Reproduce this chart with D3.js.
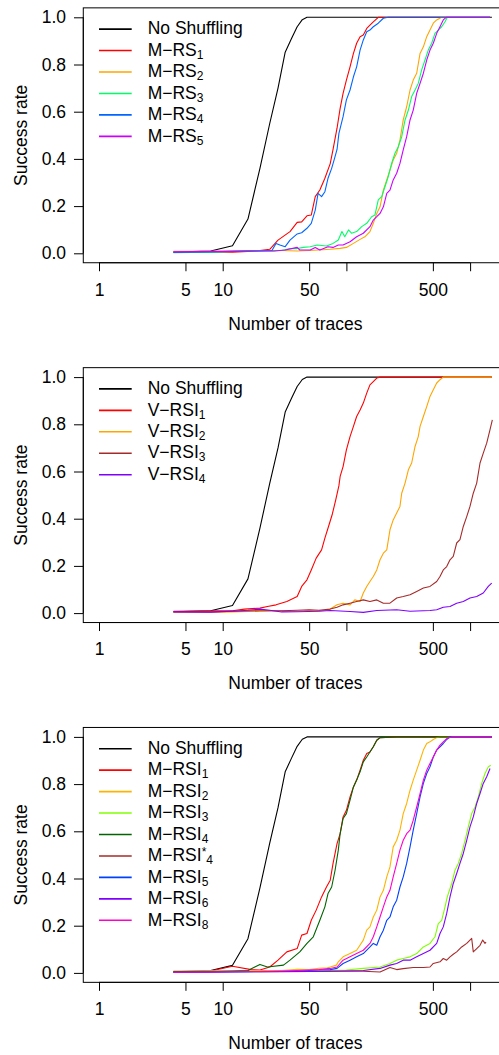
<!DOCTYPE html>
<html>
<head>
<meta charset="utf-8">
<script src="https://cdn.jsdelivr.net/npm/d3@7"></script>
<style>
  html, body { margin: 0; padding: 0; background: #fff; }
  svg { display: block; }
  text { font-family: "Liberation Sans", Arial, Helvetica, sans-serif; fill: #000; }
</style>
</head>
<body>
<svg id="chart" width="499" height="1055"></svg>
<script>
// ---- Axis ticks ----
const xTicks = [1, 5, 10, 50, 100, 500, 1000];
const xTickLabels = ["1", "5", "10", "50", "", "500", ""];
const yTicks = [0, 0.2, 0.4, 0.6, 0.8, 1.0];
const xTitle = "Number of traces";
const yTitle = "Success rate";

// ---- Series: [number of traces, success rate] ----
const noShuffling = [[4,0.005],[8,0.01],[12,0.032],[16,0.145],[20,0.36],[24,0.55],[28,0.70],[32,0.852],[36,0.91],[40,0.96],[44,0.99],[48,1.0],[1500,1.0]];

// Panel 1: M-RS variants
const mrs1 = [[4,0.005],[8,0.006],[12,0.005],[16,0.008],[20,0.012],[24,0.017],[28,0.056],[35,0.092],[40,0.131],[43.5,0.133],[48,0.159],[52,0.162],[56,0.24],[61,0.268],[67,0.318],[74,0.38],[78,0.44],[84,0.53],[89,0.614],[94,0.678],[100,0.734],[107,0.79],[114,0.847],[121,0.89],[129,0.918],[137,0.925],[146,0.953],[155,0.967],[165,0.981],[181,1.0],[1450,1.0]];
const mrs2 = [[4,0.008],[8,0.008],[12,0.01],[16,0.012],[20,0.012],[30,0.012],[40,0.01],[50,0.012],[60,0.014],[74,0.017],[89,0.021],[100,0.025],[114,0.042],[129,0.059],[141,0.07],[155,0.092],[165,0.127],[176,0.169],[187,0.197],[199,0.268],[212,0.311],[225,0.353],[239,0.395],[255,0.424],[271,0.48],[288,0.565],[307,0.621],[327,0.692],[347,0.734],[370,0.763],[394,0.847],[419,0.875],[446,0.918],[474,0.946],[504,0.975],[537,0.989],[589,1.0],[1450,1.0]];
const mrs3 = [[4,0.003],[8,0.005],[12,0.008],[16,0.01],[20,0.012],[25,0.01],[30,0.012],[35,0.02],[40,0.02],[45,0.025],[51,0.028],[58,0.035],[69,0.031],[78,0.042],[86,0.056],[92,0.092],[97,0.07],[104,0.099],[110,0.085],[121,0.092],[133,0.113],[146,0.127],[160,0.155],[170,0.162],[181,0.226],[193,0.24],[205,0.282],[218,0.325],[232,0.381],[247,0.424],[263,0.452],[280,0.494],[298,0.565],[317,0.607],[337,0.664],[359,0.692],[381,0.72],[406,0.777],[432,0.819],[459,0.861],[489,0.89],[520,0.932],[553,0.946],[589,0.96],[627,0.981],[654,1.0],[1450,1.0]];
const mrs4 = [[4,0.004],[8,0.006],[12,0.008],[16,0.01],[20,0.01],[25,0.012],[27,0.042],[29,0.035],[32,0.028],[35,0.056],[40,0.082],[43.5,0.087],[48,0.106],[52,0.127],[56,0.183],[59,0.254],[63,0.24],[67,0.261],[71,0.318],[76,0.36],[80,0.40],[84,0.44],[87,0.508],[94,0.579],[100,0.65],[107,0.692],[114,0.748],[121,0.79],[129,0.861],[137,0.904],[146,0.939],[155,0.946],[165,0.96],[181,0.975],[199,0.996],[218,1.0],[1450,1.0]];
const mrs5 = [[4,0.006],[8,0.008],[12,0.008],[16,0.01],[20,0.01],[26,0.01],[32,0.014],[40,0.025],[42,0.014],[51,0.014],[56,0.025],[61,0.014],[71,0.028],[78,0.025],[86,0.035],[94,0.035],[107,0.049],[121,0.07],[137,0.085],[155,0.113],[165,0.141],[176,0.155],[187,0.169],[199,0.197],[212,0.254],[225,0.268],[239,0.311],[255,0.339],[271,0.381],[288,0.438],[307,0.494],[327,0.565],[347,0.607],[370,0.678],[394,0.72],[419,0.763],[446,0.819],[474,0.861],[504,0.89],[537,0.932],[571,0.96],[607,0.989],[640,1.0],[1450,1.0]];

// Panel 2: V-RSI variants
const vrsi1 = [[4,0.008],[8,0.01],[12,0.01],[15,0.017],[20,0.021],[23,0.028],[27,0.035],[33,0.049],[40,0.07],[43.5,0.113],[48,0.141],[52,0.183],[57,0.233],[63,0.268],[67,0.318],[72,0.37],[77,0.42],[82,0.48],[87,0.54],[89,0.579],[94,0.621],[100,0.692],[107,0.748],[114,0.791],[121,0.833],[129,0.861],[137,0.89],[146,0.932],[155,0.967],[165,0.981],[176,0.996],[187,1.0],[1500,1.0]];
const vrsi2 = [[4,0.003],[8,0.003],[12,0.005],[20,0.008],[30,0.01],[40,0.008],[50,0.012],[60,0.01],[70,0.012],[74,0.017],[84,0.035],[94,0.042],[107,0.035],[117,0.056],[129,0.049],[137,0.085],[146,0.113],[155,0.134],[165,0.155],[176,0.183],[187,0.226],[199,0.254],[212,0.268],[225,0.353],[239,0.395],[255,0.424],[271,0.452],[280,0.508],[298,0.551],[317,0.607],[337,0.636],[359,0.706],[381,0.748],[394,0.791],[419,0.833],[446,0.875],[474,0.918],[504,0.946],[537,0.975],[571,0.989],[607,1.0],[1500,1.0]];
const vrsi3 = [[4,0.006],[8,0.006],[12,0.008],[20,0.01],[30,0.01],[40,0.012],[50,0.014],[60,0.012],[74,0.017],[84,0.025],[94,0.035],[107,0.042],[121,0.049],[137,0.056],[155,0.049],[176,0.056],[199,0.042],[225,0.042],[255,0.064],[288,0.07],[327,0.078],[370,0.092],[419,0.106],[474,0.113],[537,0.134],[571,0.155],[607,0.183],[647,0.197],[688,0.226],[731,0.24],[779,0.297],[828,0.311],[881,0.367],[939,0.409],[998,0.452],[1061,0.508],[1131,0.551],[1203,0.636],[1278,0.678],[1362,0.72],[1449,0.777],[1513,0.819]];
const vrsi4 = [[4,0.005],[8,0.004],[12,0.008],[16,0.012],[20,0.017],[24,0.012],[30,0.005],[40,0.006],[60,0.008],[74,0.011],[107,0.007],[137,0.003],[176,0.011],[255,0.014],[327,0.008],[474,0.011],[537,0.014],[607,0.025],[688,0.028],[779,0.042],[881,0.049],[998,0.064],[1131,0.07],[1278,0.085],[1403,0.113],[1495,0.127]];

// Panel 3: M-RSI variants
const mrsi1 = [[4,0.005],[8,0.008],[12,0.028],[17,0.014],[20,0.012],[24,0.025],[28,0.054],[33,0.089],[40,0.103],[43.5,0.16],[48,0.167],[52,0.223],[57,0.266],[63,0.322],[69,0.364],[74,0.393],[78,0.464],[84,0.548],[89,0.59],[94,0.661],[100,0.689],[107,0.746],[114,0.788],[121,0.817],[129,0.859],[137,0.901],[146,0.93],[155,0.936],[165,0.958],[176,0.986],[187,0.997],[255,1.0],[1500,1.0]];
const mrsi2 = [[4,0.007],[8,0.008],[12,0.008],[20,0.01],[30,0.01],[40,0.015],[50,0.014],[60,0.02],[70,0.022],[74,0.025],[83,0.033],[86,0.047],[94,0.068],[107,0.082],[121,0.096],[137,0.139],[146,0.181],[155,0.195],[165,0.237],[176,0.266],[187,0.322],[199,0.35],[212,0.407],[225,0.449],[239,0.534],[255,0.562],[271,0.605],[288,0.675],[307,0.718],[327,0.774],[347,0.817],[370,0.859],[394,0.901],[419,0.944],[446,0.972],[474,0.979],[504,0.989],[537,0.997],[571,1.0],[1500,1.0]];
const mrsi3 = [[4,0.008],[8,0.008],[12,0.008],[20,0.006],[30,0.006],[50,0.006],[74,0.01],[100,0.012],[137,0.019],[187,0.025],[225,0.04],[255,0.054],[288,0.061],[327,0.068],[370,0.082],[419,0.11],[474,0.125],[520,0.153],[553,0.209],[589,0.223],[627,0.28],[654,0.322],[710,0.379],[755,0.435],[803,0.464],[855,0.506],[910,0.562],[967,0.619],[1030,0.675],[1096,0.703],[1165,0.746],[1241,0.803],[1320,0.845],[1403,0.873],[1468,0.88]];
const mrsi4 = [[4,0.004],[8,0.006],[12,0.008],[16,0.01],[20,0.036],[23,0.025],[31,0.033],[35,0.054],[42,0.089],[48,0.125],[54,0.153],[61,0.223],[67,0.28],[71,0.336],[76,0.364],[81,0.435],[86,0.52],[89,0.59],[94,0.654],[100,0.675],[107,0.732],[114,0.788],[121,0.817],[129,0.852],[137,0.894],[146,0.915],[155,0.936],[165,0.958],[176,0.986],[187,0.997],[255,1.0],[1500,1.0]];
const mrsi4star = [[4,0.006],[8,0.006],[12,0.006],[20,0.006],[30,0.006],[50,0.006],[74,0.007],[137,0.007],[187,0.004],[225,0.023],[255,0.014],[288,0.018],[347,0.023],[419,0.023],[474,0.025],[504,0.04],[571,0.047],[607,0.061],[647,0.054],[688,0.068],[731,0.079],[779,0.089],[855,0.11],[939,0.125],[1030,0.146],[1061,0.089],[1131,0.103],[1203,0.117],[1264,0.139],[1320,0.125],[1345,0.131]];
const mrsi5 = [[4,0.002],[8,0.003],[12,0.004],[20,0.005],[30,0.006],[40,0.008],[50,0.01],[60,0.012],[74,0.014],[84,0.019],[94,0.04],[107,0.054],[121,0.068],[137,0.082],[155,0.11],[165,0.125],[176,0.117],[187,0.153],[199,0.181],[212,0.223],[225,0.237],[239,0.28],[255,0.308],[271,0.364],[288,0.407],[307,0.464],[327,0.534],[347,0.605],[370,0.675],[394,0.746],[419,0.803],[446,0.845],[474,0.873],[504,0.915],[537,0.944],[571,0.958],[607,0.972],[647,0.989],[688,1.0],[1500,1.0]];
const mrsi6 = [[4,0.004],[8,0.004],[12,0.005],[20,0.005],[30,0.005],[50,0.006],[74,0.007],[137,0.01],[187,0.019],[225,0.033],[255,0.04],[288,0.054],[327,0.054],[370,0.068],[419,0.082],[474,0.096],[537,0.125],[571,0.167],[607,0.195],[647,0.252],[688,0.322],[731,0.379],[779,0.421],[828,0.464],[881,0.506],[939,0.562],[998,0.619],[1061,0.661],[1131,0.718],[1203,0.76],[1278,0.803],[1362,0.831],[1449,0.866]];
const mrsi8 = [[4,0.003],[8,0.004],[12,0.005],[20,0.006],[30,0.008],[40,0.01],[50,0.012],[60,0.014],[74,0.019],[84,0.025],[94,0.054],[107,0.068],[121,0.082],[137,0.096],[155,0.125],[165,0.153],[176,0.195],[187,0.237],[199,0.28],[212,0.322],[225,0.35],[239,0.407],[255,0.464],[271,0.52],[288,0.562],[307,0.59],[327,0.605],[347,0.647],[370,0.703],[394,0.76],[419,0.817],[446,0.859],[474,0.887],[504,0.915],[537,0.944],[571,0.965],[607,0.979],[647,0.993],[710,1.0],[1500,1.0]];

// ---- Legend labels: [base, subscript, superscript] ----
const labels1 = [["No Shuffling"], ["M\u2212RS","1"], ["M\u2212RS","2"], ["M\u2212RS","3"], ["M\u2212RS","4"], ["M\u2212RS","5"]];
const labels2 = [["No Shuffling"], ["V\u2212RSI","1"], ["V\u2212RSI","2"], ["V\u2212RSI","3"], ["V\u2212RSI","4"]];
const labels3 = [["No Shuffling"], ["M\u2212RSI","1"], ["M\u2212RSI","2"], ["M\u2212RSI","3"], ["M\u2212RSI","4"], ["M\u2212RSI","4","*"], ["M\u2212RSI","5"], ["M\u2212RSI","6"], ["M\u2212RSI","8"]];

// ---- Colours ----
const colors1 = ["#000000", "#FF0000", "#FFA500", "#00FF66", "#0066FF", "#CC00FF"];
const colors2 = ["#000000", "#FF0000", "#FFA500", "#A52A2A", "#8000FF"];
const colors3 = ["#000000", "#FF0000", "#FFB300", "#80FF00", "#006400", "#A52A2A", "#0040FF", "#8000FF", "#FF00CC"];

const panels = [
  { series: [noShuffling, mrs1, mrs2, mrs3, mrs4, mrs5], labels: labels1, colors: colors1 },
  { series: [noShuffling, vrsi1, vrsi2, vrsi3, vrsi4], labels: labels2, colors: colors2 },
  { series: [noShuffling, mrsi1, mrsi2, mrsi3, mrsi4, mrsi4star, mrsi5, mrsi6, mrsi8], labels: labels3, colors: colors3 }
];

// ---- Layout ----
const svg = d3.select("#chart");
const fontSize = 17.5;
const subSize = 12;
const decadePx = 123.7;
const plotH = 236;
const panelStep = 359.8;
const firstTop = 17.3;

const x = d3.scaleLog().domain([1, 1500]).range([99, 99 + decadePx * Math.log10(1500)]);
const [xr0, xr1] = x.range();
const padX = 0.04 * (xr1 - xr0);
const padY = 0.04 * plotH;

const line = (y) => d3.line().x(d => x(d[0])).y(d => y(d[1]));

panels.forEach((p, i) => {
  const top = firstTop + i * panelStep;
  const y = d3.scaleLinear().domain([0, 1]).range([top + plotH, top]);
  const g = svg.append("g");

  const boxX = xr0 - padX, boxY = top - padY;
  const boxW = (xr1 - xr0) + 2 * padX, boxH = plotH + 2 * padY;
  const clipId = "clip" + i;
  svg.append("clipPath").attr("id", clipId)
    .append("rect").attr("x", boxX).attr("y", boxY).attr("width", boxW).attr("height", boxH);

  // data lines
  const lines = g.append("g").attr("clip-path", `url(#${clipId})`);
  p.series.forEach((s, k) => {
    lines.append("path")
      .datum(s)
      .attr("d", line(y))
      .attr("fill", "none")
      .attr("stroke", p.colors[k])
      .attr("stroke-width", 1.1)
      .attr("stroke-linejoin", "round");
  });

  // frame
  g.append("rect")
    .attr("x", boxX).attr("y", boxY).attr("width", boxW).attr("height", boxH)
    .attr("fill", "none").attr("stroke", "#000").attr("stroke-width", 1);

  // x axis
  const axisY = boxY + boxH;
  const xAxis = d3.axisBottom(x)
    .tickValues(xTicks)
    .tickFormat((d, k) => xTickLabels[k])
    .tickSizeInner(8.5).tickSizeOuter(0).tickPadding(12);
  const gx = g.append("g").attr("transform", `translate(0,${axisY})`).call(xAxis);
  gx.select(".domain").remove();
  gx.append("line")
    .attr("x1", x(xTicks[0])).attr("x2", x(xTicks[xTicks.length - 1]))
    .attr("y1", 0).attr("y2", 0).attr("stroke", "#000");
  gx.selectAll("text").attr("font-size", fontSize).attr("font-family", null).attr("fill", "#000");
  gx.selectAll("line").attr("stroke", "#000");

  // y axis
  const yAxis = d3.axisLeft(y)
    .tickValues(yTicks)
    .tickFormat(d3.format(".1f"))
    .tickSizeInner(9.3).tickSizeOuter(0).tickPadding(8);
  const gy = g.append("g").attr("transform", `translate(${boxX},0)`).call(yAxis);
  gy.select(".domain").remove();
  gy.append("line")
    .attr("x1", 0).attr("x2", 0)
    .attr("y1", y(0)).attr("y2", y(1)).attr("stroke", "#000");
  gy.selectAll("text").attr("font-size", fontSize).attr("font-family", null).attr("fill", "#000");
  gy.selectAll("line").attr("stroke", "#000");

  // axis titles
  g.append("text")
    .attr("x", boxX + boxW / 2).attr("y", axisY + 66.9)
    .attr("text-anchor", "middle").attr("font-size", fontSize)
    .text(xTitle);
  g.append("text")
    .attr("transform", `translate(27,${top + plotH / 2}) rotate(-90)`)
    .attr("text-anchor", "middle").attr("font-size", fontSize)
    .text(yTitle);

  // legend
  const legTop = top + 11.8;
  const legStep = 21.45;
  p.labels.forEach((lab, k) => {
    const ly = legTop + k * legStep;
    g.append("line")
      .attr("x1", 99).attr("x2", 131.7)
      .attr("y1", ly).attr("y2", ly)
      .attr("stroke", p.colors[k]).attr("stroke-width", 1.6);
    const t = g.append("text")
      .attr("x", 147.7).attr("y", ly + 5.2)
      .attr("font-size", fontSize);
    t.append("tspan").text(lab[0]);
    if (lab.length === 3) {
      t.append("tspan").attr("font-size", subSize).attr("dy", -5).text(lab[2]);
      t.append("tspan").attr("font-size", subSize).attr("dy", 7.5).text(lab[1]);
    } else if (lab.length === 2) {
      t.append("tspan").attr("font-size", subSize).attr("dy", 3).text(lab[1]);
    }
  });
});
</script>
</body>
</html>
